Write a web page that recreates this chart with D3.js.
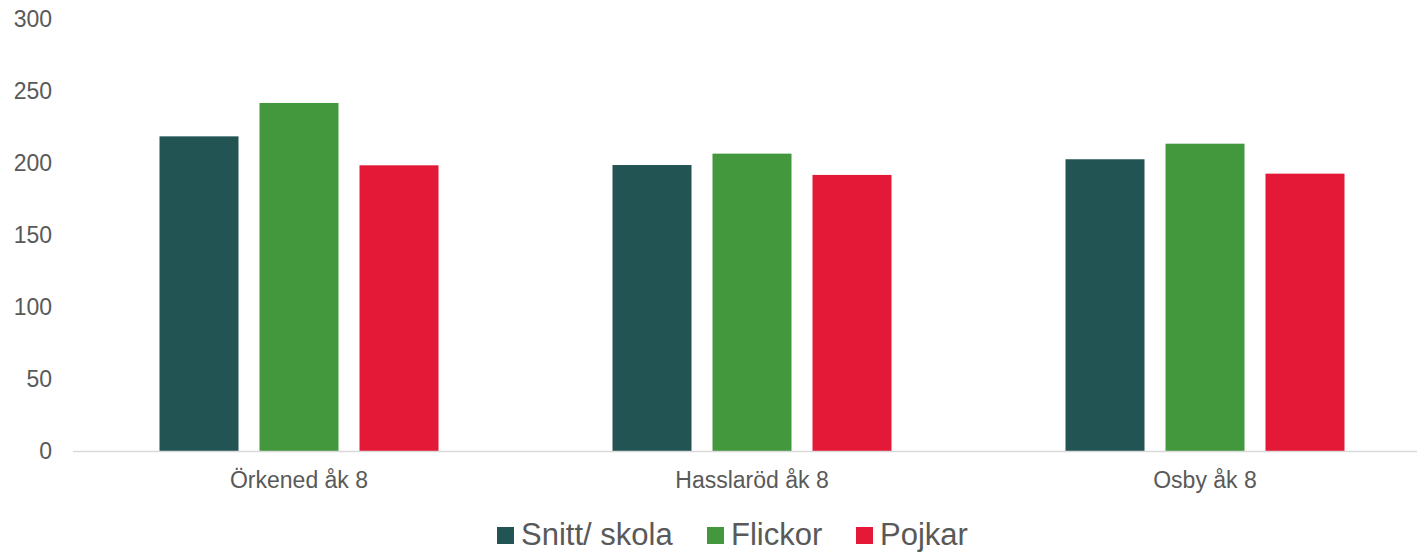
<!DOCTYPE html>
<html>
<head>
<meta charset="utf-8">
<script src="https://cdn.jsdelivr.net/npm/d3@7"></script>
<style>
  body { margin: 0; background: #fff; }
  text { font-family: "Liberation Sans", Arial, sans-serif; fill: #595959; }
</style>
</head>
<body>
<div class="chart"></div>
<script>
// Chart data
var schools = ["Örkened åk 8", "Hasslaröd åk 8", "Osby åk 8"];
var seriesNames = ["Snitt/ skola", "Flickor", "Pojkar"];
var seriesColors = ["#225453", "#43973c", "#e31937"];
var snitt = [218.5, 198.6, 202.6];
var flickor = [241.7, 206.5, 213.4];
var pojkar = [198.4, 191.7, 192.6];
var yTicks = [0, 50, 100, 150, 200, 250, 300];

var w = 1417;
var h = 554;

var svg = d3.select(".chart")
  .append("svg")
  .attr("width", w)
  .attr("height", h);

// Scales
var x = d3.scaleBand()
  .domain(schools)
  .range([72.5, 1431.5]);

var xInner = d3.scaleBand()
  .domain(seriesNames)
  .range([0, x.bandwidth()])
  .paddingInner(0.21)
  .paddingOuter(0.87);

var y = d3.scaleLinear()
  .domain([0, 300])
  .range([451, 19]);

// Y axis labels
var yAxis = d3.axisLeft(y)
  .tickValues(yTicks)
  .tickSize(0)
  .tickPadding(0);

svg.append("g")
  .attr("transform", "translate(52,0)")
  .call(yAxis)
  .call(function(g) { g.select(".domain").remove(); })
  .selectAll("text")
    .style("font-size", "23px")
    .attr("fill", "#595959")
    .attr("font-family", "Liberation Sans, Arial, sans-serif");

// Bars
var rows = schools.map(function(s, i) {
    return [snitt[i], flickor[i], pojkar[i]];
});

var groups = svg.selectAll(".group")
  .data(rows)
  .enter()
  .append("g")
  .attr("class", "group")
  .attr("transform", function(d, i) { return "translate(" + x(schools[i]) + ",0)"; });

groups.selectAll("rect")
  .data(function(d) { return d; })
  .enter()
  .append("rect")
  .attr("x", function(d, j) { return xInner(seriesNames[j]); })
  .attr("width", xInner.bandwidth())
  .attr("y", function(d) { return y(d); })
  .attr("height", function(d) { return y(0) - y(d); })
  .attr("fill", function(d, j) { return seriesColors[j]; });

// Baseline
svg.append("line")
  .attr("x1", 73)
  .attr("x2", w)
  .attr("y1", y(0) + 0.5)
  .attr("y2", y(0) + 0.5)
  .attr("stroke", "#d9d9d9")
  .attr("stroke-width", 1.5);

// X axis labels
var xAxis = d3.axisBottom(x)
  .tickSize(0)
  .tickPadding(0);

svg.append("g")
  .attr("transform", "translate(0,488)")
  .call(xAxis)
  .call(function(g) { g.select(".domain").remove(); })
  .selectAll("text")
    .attr("dy", 0)
    .style("font-size", "23px")
    .attr("fill", "#595959")
    .attr("font-family", "Liberation Sans, Arial, sans-serif");

// Legend
var legendX = [497, 707, 856];

var legend = svg.selectAll(".legend")
  .data(seriesNames)
  .enter()
  .append("g")
  .attr("class", "legend")
  .attr("transform", function(d, i) { return "translate(" + legendX[i] + ",527)"; });

legend.append("rect")
  .attr("width", 17)
  .attr("height", 17)
  .attr("fill", function(d, i) { return seriesColors[i]; });

legend.append("text")
  .attr("x", 24)
  .attr("y", 18)
  .style("font-size", "31px")
  .text(function(d) { return d; });
</script>
</body>
</html>
